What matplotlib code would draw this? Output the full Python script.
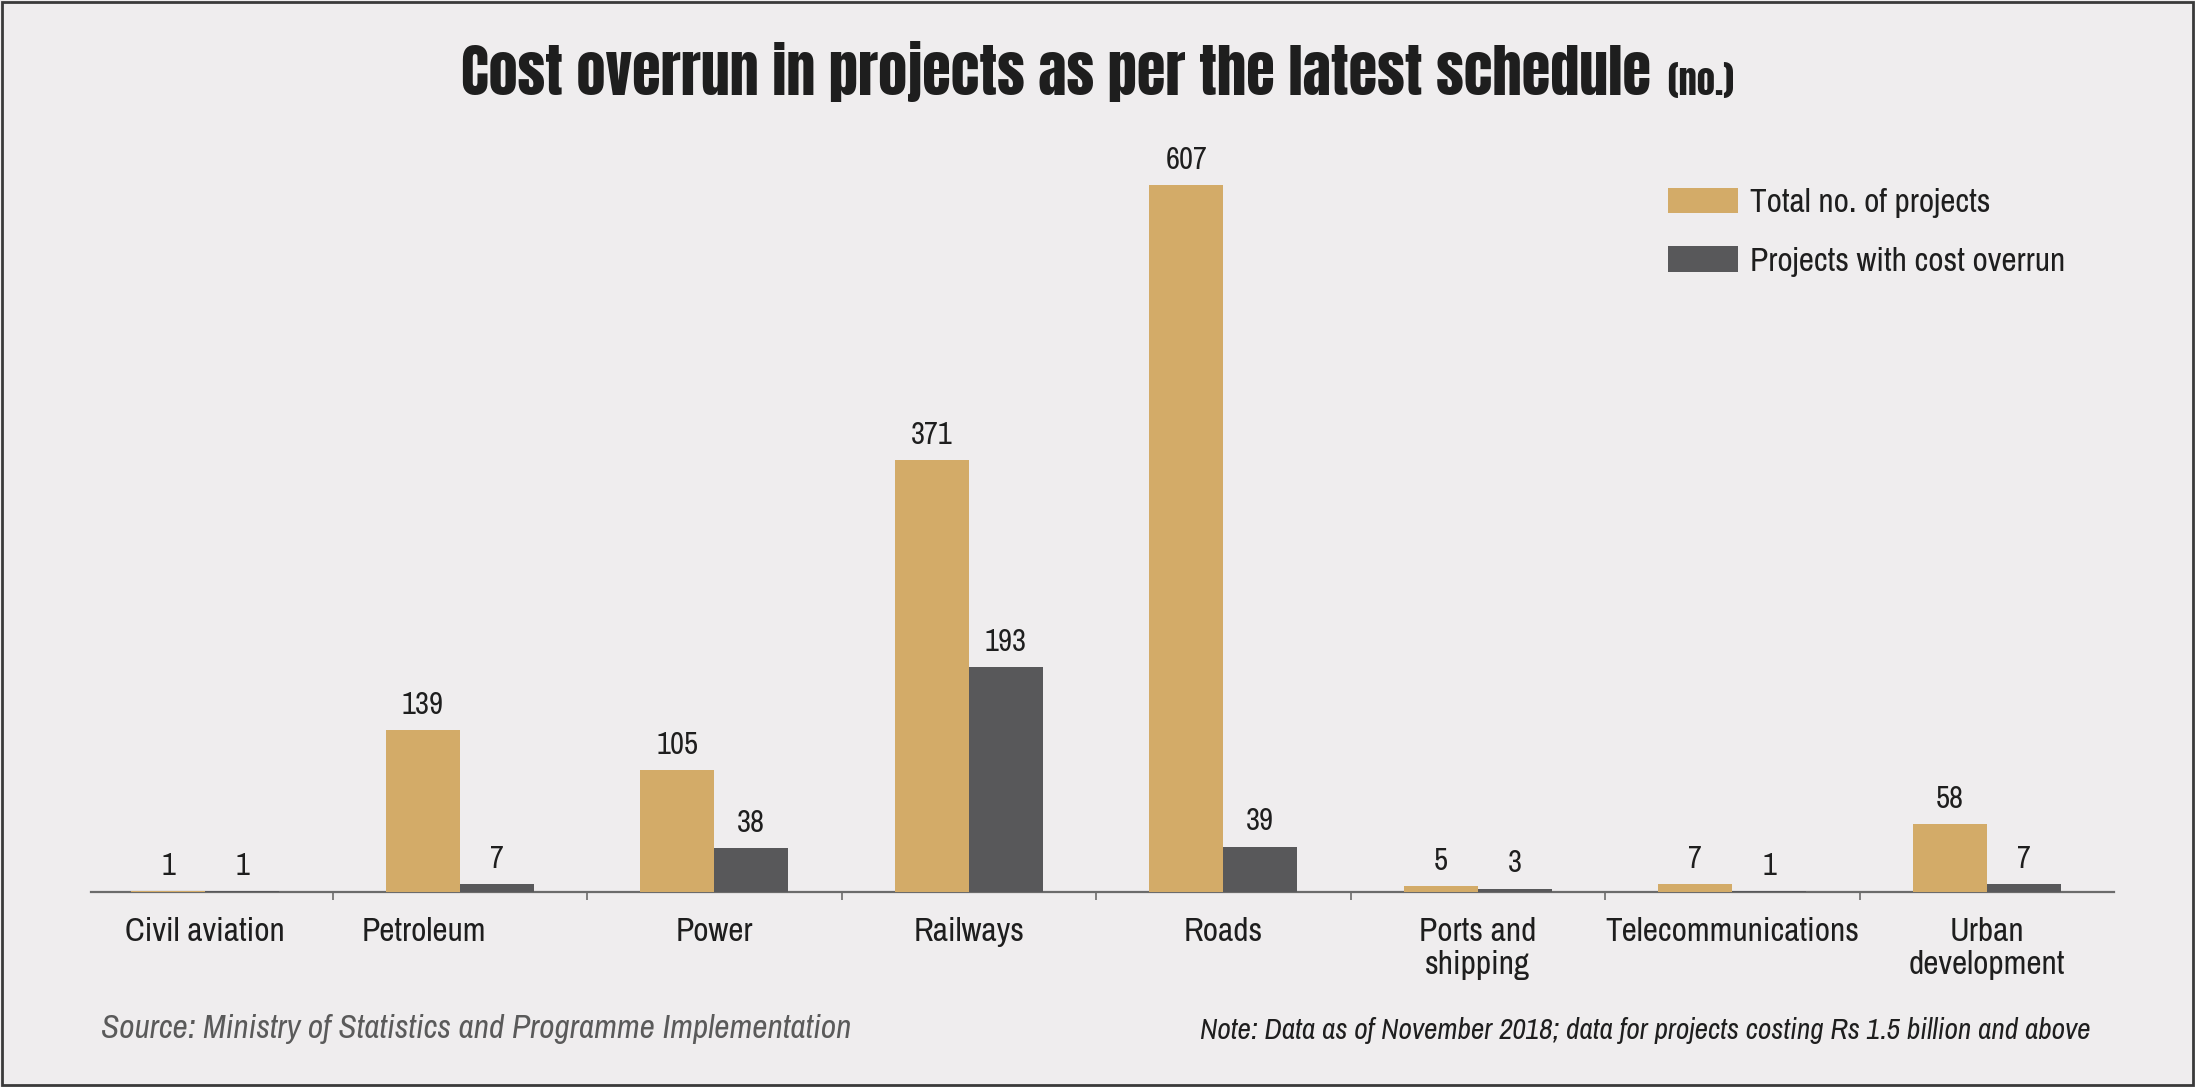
import matplotlib
matplotlib.use("Agg")
import matplotlib.pyplot as plt
from matplotlib import font_manager as fm
from matplotlib.patches import Rectangle
from matplotlib.transforms import ScaledTranslation
import numpy as np

# -- Data --
categories = ['Civil aviation', 'Petroleum', 'Power', 'Railways', 'Roads',
              'Ports and\nshipping', 'Telecommunications', 'Urban\ndevelopment']
total_projects = [1, 139, 105, 371, 607, 5, 7, 58]
overrun_projects = [1, 7, 38, 193, 39, 3, 1, 7]
series_names = ['Total no. of projects', 'Projects with cost overrun']

GOLD = '#d3ab68'
DARK = '#58585a'
BG = '#efedee'
TEXT = '#1e1e1e'

# -- Fonts: narrow sans for body, heavy condensed for the title --
installed = {f.name for f in fm.fontManager.ttflist}


def pick(*cands):
    for c in cands:
        if c in installed:
            return c
    return 'DejaVu Sans'


BODY = pick('Archivo Narrow', 'Roboto Condensed', 'PT Sans Narrow', 'Liberation Sans Narrow',
            'Liberation Sans')
TITLE = pick('Anton', 'Oswald', 'Bebas Neue', 'Liberation Sans Narrow', 'Liberation Sans')
title_weight = 'normal' if TITLE in ('Anton', 'Bebas Neue') else 'bold'

W, H = 2195, 1087
fig = plt.figure(figsize=(W / 100, H / 100), dpi=100, facecolor=BG)

# axes placed in pixel terms of the reference
left, right = 78 / W, 2114 / W
bottom, top = 1 - 892 / H, 1 - 135 / H
ax = fig.add_axes([left, bottom, right - left, top - bottom])
ax.set_facecolor(BG)

x = np.arange(len(categories))
bw = 0.29
b1 = ax.bar(x - bw / 2, total_projects, bw, color=GOLD, label=series_names[0], zorder=3)
b2 = ax.bar(x + bw / 2, overrun_projects, bw, color=DARK, label=series_names[1], zorder=3)

for bars in (b1, b2):
    ax.bar_label(bars, padding=8, fontsize=22, family=BODY, color=TEXT)

ax.set_xlim(-0.5, len(categories) - 0.5)
ax.set_ylim(0, 650)

# -- Spines / ticks --
for s in ('top', 'right', 'left'):
    ax.spines[s].set_visible(False)
ax.spines['bottom'].set_color('#6b6b6b')
ax.spines['bottom'].set_linewidth(1.6)
ax.spines['bottom'].set_bounds(-0.45, len(categories) - 0.5)
ax.set_yticks([])

ax.set_xticks(x)
ax.set_xticklabels(categories, fontsize=24, family=BODY, color=TEXT, linespacing=1.12)
ax.set_xticks(np.arange(0.5, len(categories) - 1, 1), minor=True)
ax.tick_params(axis='x', which='major', length=0, pad=18)
ax.tick_params(axis='x', which='minor', length=6, width=1.2, color='#6b6b6b', direction='out')

# "Petroleum" sits a little left of its bars in the original
lbl = ax.get_xticklabels()[1]
lbl.set_transform(lbl.get_transform() + ScaledTranslation(-0.36, 0, fig.dpi_scale_trans))

# -- Legend --
ax.legend(loc='upper left', bbox_to_anchor=(1668 / W, 1 - 188 / H),
          bbox_transform=fig.transFigure, frameon=False, borderpad=0,
          borderaxespad=0, prop={'family': BODY, 'size': 24},
          handlelength=2.1, handleheight=0.78, handletextpad=0.36,
          labelspacing=0.85, labelcolor=TEXT)

# -- Title with the small "(no.)" after it, sized to the reference width --
renderer = fig.canvas.get_renderer()
t_main = fig.text(0.5, 1 - 95 / H, 'Cost overrun in projects as per the latest schedule',
                  fontsize=40, fontweight=title_weight, family=TITLE, color=TEXT,
                  ha='left', va='baseline')
t_unit = fig.text(0.5, 1 - 95 / H, '  (no.)', fontsize=25, fontweight=title_weight,
                  family=TITLE, color=TEXT, ha='left', va='baseline')
w_total = t_main.get_window_extent(renderer).width + t_unit.get_window_extent(renderer).width
k = 1271 / w_total
t_main.set_fontsize(40 * k)
t_unit.set_fontsize(25 * k)
w_main = t_main.get_window_extent(renderer).width
w_unit = t_unit.get_window_extent(renderer).width
x0 = (W - w_main - w_unit) / 2
t_main.set_x(x0 / W)
t_unit.set_x((x0 + w_main) / W)

# -- Footer texts --
fig.text(101 / W, 1 - 1029 / H, 'Source: Ministry of Statistics and Programme Implementation',
         fontsize=24, style='italic', family=BODY, color='#5a5a5a', ha='left', va='center')
fig.text(2090 / W, 1 - 1031 / H,
         'Note: Data as of November 2018; data for projects costing Rs 1.5 billion and above',
         fontsize=21.2, style='italic', family=BODY, color=TEXT, ha='right', va='center')

# -- Frame around the whole graphic --
fig.patches.append(Rectangle((2 / W, 2 / H), 1 - 4 / W, 1 - 4 / H, transform=fig.transFigure,
                             fill=False, edgecolor='#3a3a3a', linewidth=2))

fig.savefig('out.png', dpi=100, facecolor=BG)
